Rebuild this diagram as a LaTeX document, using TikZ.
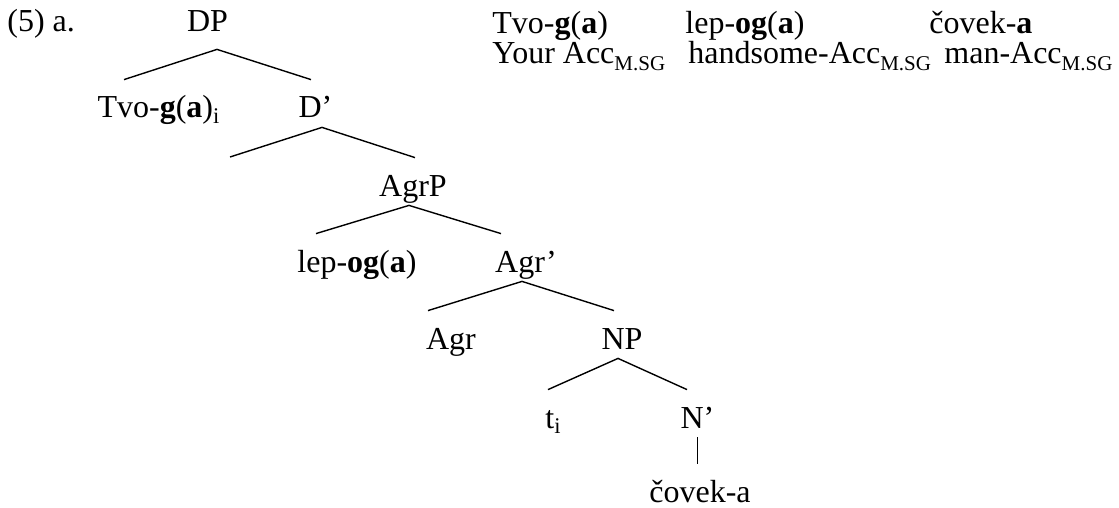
\documentclass[tikz,border=0pt]{standalone}
\usepackage{fontspec}
\setmainfont{Liberation Serif}
\begin{document}
\begin{tikzpicture}[x=0.5pt, y=-0.5pt,
    every node/.style={font=\fontsize{16}{19}\selectfont, inner sep=0pt},
    lbl/.style={anchor=base, text height=19pt, text depth=4.5pt},
    gloss/.style={anchor=base west},
    branch/.style={line width=0.7pt}]
    \useasboundingbox (0,0) rectangle (1119,508);
    \def\msg{\raisebox{-0.2em}{\fontsize{10.5}{12}\selectfont M.SG}}
    % example number
    \node[gloss] (num) at (7,32) {(5) a.};
    % the gloss, two rows
    \node[gloss] (w1) at (492,34) {Tvo-\textbf{g}(\textbf{a})};
    \node[gloss] (w2) at (685,34) {lep-\textbf{og}(\textbf{a})};
    \node[gloss] (w3) at (929,34) {čovek-\textbf{a}};
    \node[gloss] (g1) at (492,64) {Your Acc\msg};
    \node[gloss] (g2) at (688,64) {handsome-Acc\msg};
    \node[gloss] (g3) at (944,64) {man-Acc\msg};
    % the tree
    \node[lbl, text depth=8.5pt] (DP) at (207.5,32) {DP};
    \node[lbl] (tvo) at (159,118) {Tvo-\textbf{g}(\textbf{a})\textsubscript{i}};
    \node[lbl] (Dbar) at (315.5,118) {D’};
    \coordinate (D) at (230,157);
    \node[lbl] (AgrP) at (413,196) {AgrP};
    \node[lbl] (lep) at (357,272) {lep-\textbf{og}(\textbf{a})};
    \node[lbl] (Agrbar) at (526,272) {Agr’};
    \node[lbl] (Agr) at (451,349) {Agr};
    \node[lbl] (NP) at (622,349) {NP};
    \node[lbl] (t) at (553.5,428) {t\textsubscript{i}};
    \node[lbl] (Nbar) at (697.5,428) {N’};
    \node[lbl] (covek) at (700,502) {čovek-a};
    % branches, each pair from one mother
    \draw[branch] ([xshift=-17.5pt]tvo.north) -- ([xshift=4.75pt]DP.south) -- ([xshift=-2.25pt]Dbar.north);
    \draw[branch] (D) -- ([xshift=3.25pt]Dbar.south) -- ([xshift=1pt]AgrP.north);
    \draw[branch] ([xshift=-20.5pt]lep.north) -- ([xshift=-2pt]AgrP.south) -- ([xshift=-12.5pt]Agrbar.north);
    \draw[branch] ([xshift=-11.5pt]Agr.north) -- ([xshift=-2pt]Agrbar.south) -- ([xshift=-4pt]NP.north);
    \draw[branch] ([xshift=-2.75pt]t.north) -- ([xshift=-2pt]NP.south) -- ([xshift=-5.25pt]Nbar.north);
    \draw[branch] (Nbar.south) -- (Nbar.south |- covek.north);
\end{tikzpicture}
\end{document}
